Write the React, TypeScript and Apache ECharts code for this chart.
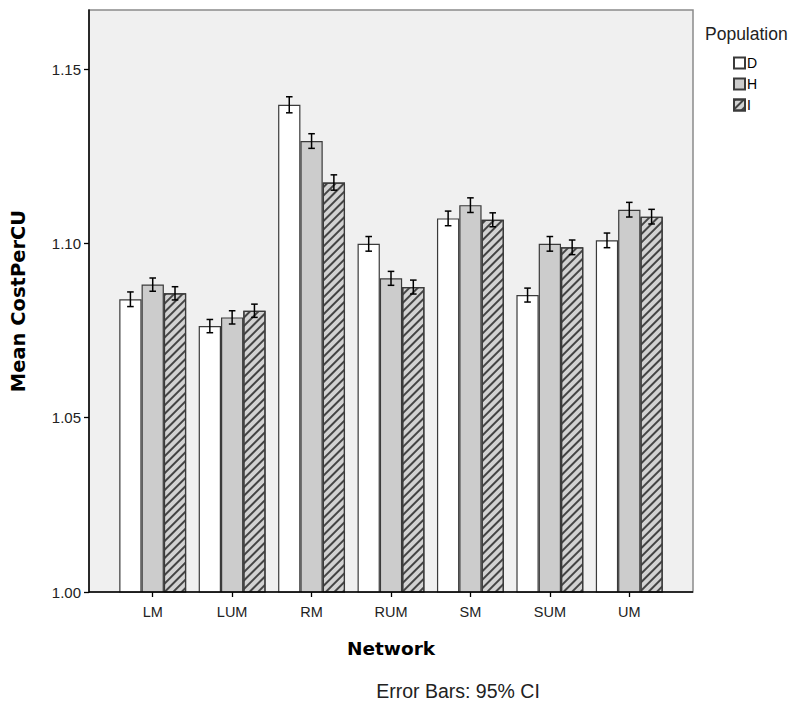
import React, { useEffect, useRef } from "react";
import * as echarts from "echarts";

const categories = ["LM", "LUM", "RM", "RUM", "SM", "SUM", "UM"];
const populations = ["D", "H", "I"];
const meanD = [1.084, 1.0763, 1.1398, 1.0999, 1.1072, 1.0852, 1.1009];
const meanH = [1.0882, 1.0788, 1.1294, 1.09, 1.111, 1.0999, 1.1097];
const meanI = [1.0857, 1.0807, 1.1175, 1.0875, 1.1068, 1.0989, 1.1077];
const ciD = [0.0021, 0.0019, 0.0023, 0.0021, 0.0021, 0.002, 0.0021];
const ciH = [0.0019, 0.0019, 0.0021, 0.002, 0.0021, 0.0021, 0.0021];
const ciI = [0.0019, 0.0019, 0.0022, 0.002, 0.002, 0.0021, 0.0021];
const yTicks = [1.0, 1.05, 1.1, 1.15];

const FONT = "'Liberation Sans', Arial, sans-serif";
const BOLD_FONT = "'DejaVu Sans', Verdana, sans-serif";

export default function App() {
  const ref = useRef<HTMLDivElement>(null);
  useEffect(() => {
    if (!ref.current) return;
    const chart = echarts.init(ref.current, null, { renderer: "svg" });
    const means = [meanD, meanH, meanI];
    const cis = [ciD, ciH, ciI];
    const fills = ["#ffffff", "#cccccc", "#d2d2d2"];
    const BAR_W = 22.3;

    const barSeries = populations.map((p, si) => ({
      name: p,
      type: "bar",
      barWidth: BAR_W,
      barGap: "0%",
      data: means[si],
      itemStyle: {
        color: fills[si],
        borderColor: "#3a3a3a",
        borderWidth: 1.2,
        ...(si === 2
          ? {
              decal: {
                symbol: "rect",
                symbolSize: 1,
                dashArrayX: [1, 0],
                dashArrayY: [1.3, 3.2],
                rotation: -Math.PI / 4,
                color: "#444444",
              },
            }
          : {}),
      },
      z: 2,
    }));

    const errSeries = populations.map((p, si) => ({
      name: p + "-ci",
      type: "custom",
      data: means[si].map((m, i) => [i, m - cis[si][i], m + cis[si][i]]),
      encode: { x: 0, y: [1, 2] },
      z: 5,
      silent: true,
      renderItem: (params: any, api: any) => {
        const idx = api.value(0);
        const lo = api.coord([idx, api.value(1)]);
        const hi = api.coord([idx, api.value(2)]);
        const x = lo[0] + (si - 1) * BAR_W;
        const cap = 3.3;
        const style = { stroke: "#000", lineWidth: 1.5, fill: null };
        return {
          type: "group",
          children: [
            { type: "line", shape: { x1: x, y1: lo[1], x2: x, y2: hi[1] }, style },
            { type: "line", shape: { x1: x - cap, y1: lo[1], x2: x + cap, y2: lo[1] }, style },
            { type: "line", shape: { x1: x - cap, y1: hi[1], x2: x + cap, y2: hi[1] }, style },
          ],
        };
      },
    }));

    chart.setOption({
      animation: false,
      backgroundColor: "#ffffff",
      grid: { left: 113, right: 130, top: 10, bottom: 116 },
      legend: {
        data: populations,
        orient: "vertical",
        left: 733,
        top: 56,
        padding: 0,
        itemWidth: 11,
        itemHeight: 11,
        itemGap: 7,
        icon: "rect",
        selectedMode: false,
        textStyle: { fontFamily: FONT, fontSize: 14, color: "#000", padding: [0, 0, 0, -3] },
      },
      xAxis: {
        type: "category",
        data: categories,
        axisLine: { show: false },
        axisTick: { show: true, alignWithLabel: true, length: 5, lineStyle: { color: "#000", width: 1.3 } },
        axisLabel: { fontFamily: FONT, fontSize: 14.5, color: "#222", margin: 12 },
        name: "Network",
        nameLocation: "middle",
        nameGap: 47,
        nameTextStyle: { fontFamily: BOLD_FONT, fontWeight: "bold", fontSize: 18.5, color: "#000" },
      },
      yAxis: {
        type: "value",
        min: 1.0,
        max: 1.167,
        offset: 24,
        splitLine: { show: false },
        axisLine: { show: true, lineStyle: { color: "#000", width: 1.5 } },
        axisTick: { show: true, length: 5, customValues: yTicks, lineStyle: { color: "#000", width: 1.3 } },
        axisLabel: {
          customValues: yTicks,
          fontFamily: FONT,
          fontSize: 15,
          color: "#222",
          margin: 8,
          formatter: (v: number) => v.toFixed(2),
        },
      },
      graphic: [
        {
          type: "rect",
          z: -10,
          shape: { x: 89, y: 10, width: 604, height: 582 },
          style: { fill: "#f0f0f0", stroke: "#8a8a8a", lineWidth: 1.5 },
        },
        {
          type: "line",
          z: 10,
          shape: { x1: 89, y1: 592, x2: 693, y2: 592 },
          style: { stroke: "#000", lineWidth: 1.5 },
        },
        {
          type: "text",
          x: 18,
          y: 301,
          rotation: Math.PI / 2,
          style: {
            text: "Mean CostPerCU",
            font: `bold 19.5px ${BOLD_FONT}`,
            fill: "#000",
            textAlign: "center",
            textVerticalAlign: "middle",
          },
        },
        {
          type: "text",
          x: 705,
          y: 34,
          style: {
            text: "Population",
            font: `17.5px ${FONT}`,
            fill: "#222",
            textAlign: "left",
            textVerticalAlign: "middle",
          },
        },
        {
          type: "text",
          x: 458,
          y: 691,
          style: {
            text: "Error Bars: 95% CI",
            font: `19.5px ${FONT}`,
            fill: "#222",
            textAlign: "center",
            textVerticalAlign: "middle",
          },
        },
      ],
      series: [...barSeries, ...errSeries],
    });
    return () => chart.dispose();
  }, []);
  return <div ref={ref} style={{ width: 799, height: 708, margin: -8 }} />;
}
